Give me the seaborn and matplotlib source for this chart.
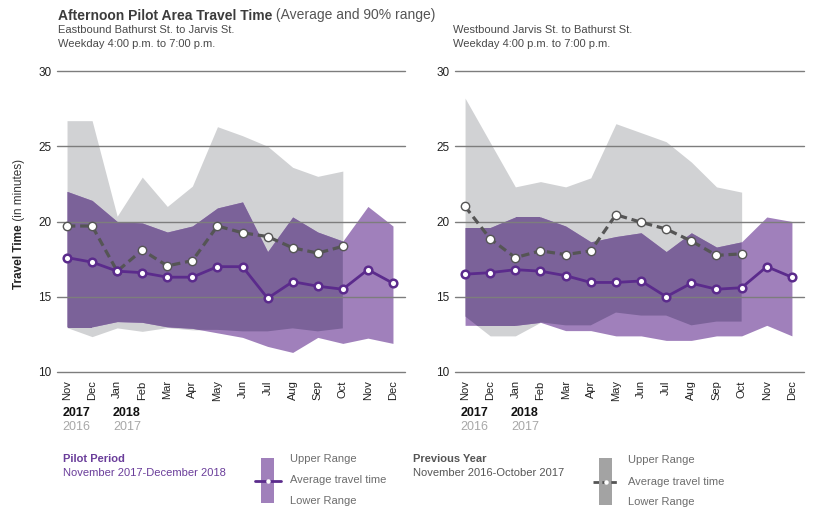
import numpy as np
import pandas as pd
import seaborn as sns
import matplotlib.pyplot as plt
import matplotlib.transforms as mtransforms
from matplotlib.patches import Rectangle
from matplotlib.lines import Line2D

# ---- data ----
months = ['Nov', 'Dec', 'Jan', 'Feb', 'Mar', 'Apr', 'May', 'Jun', 'Jul', 'Aug', 'Sep', 'Oct', 'Nov', 'Dec']

# eastbound (left panel)
east_pilot_avg = [17.6, 17.3, 16.7, 16.6, 16.3, 16.3, 17.0, 17.0, 14.9, 16.0, 15.7, 15.5, 16.8, 15.9]
east_pilot_hi = [22.0, 21.4, 20.0, 19.9, 19.3, 19.7, 20.9, 21.3, 18.0, 20.3, 19.3, 18.7, 21.0, 19.7]
east_pilot_lo = [13.0, 13.0, 13.35, 13.3, 13.0, 12.9, 12.6, 12.3, 11.7, 11.3, 12.3, 11.9, 12.25, 11.9]
east_prev_avg = [19.7, 19.7, 16.7, 18.1, 17.05, 17.4, 19.7, 19.25, 19.0, 18.25, 17.9, 18.35]
east_prev_hi = [26.7, 26.7, 20.35, 22.95, 21.0, 22.35, 26.3, 25.7, 25.0, 23.6, 23.0, 23.35]
east_prev_lo = [12.95, 12.35, 12.93, 12.7, 12.95, 12.8, 12.8, 12.7, 12.7, 12.9, 12.7, 12.9]

# westbound (right panel)
west_pilot_avg = [16.5, 16.6, 16.8, 16.7, 16.4, 15.95, 15.95, 16.05, 15.0, 15.9, 15.5, 15.6, 17.0, 16.3]
west_pilot_hi = [19.6, 19.6, 20.3, 20.3, 19.7, 18.65, 19.0, 19.25, 18.0, 19.25, 18.3, 18.65, 20.3, 20.0]
west_pilot_lo = [13.1, 13.1, 13.1, 13.3, 12.75, 12.75, 12.4, 12.4, 12.1, 12.1, 12.4, 12.4, 13.1, 12.4]
west_prev_avg = [21.0, 18.85, 17.6, 18.05, 17.8, 18.05, 20.45, 19.95, 19.5, 18.7, 17.75, 17.85]
west_prev_hi = [28.2, 25.25, 22.3, 22.65, 22.3, 22.9, 26.5, 25.9, 25.3, 23.95, 22.3, 21.95]
west_prev_lo = [13.7, 12.4, 12.4, 13.3, 13.1, 13.1, 13.95, 13.75, 13.75, 13.1, 13.35, 13.35]

yticks = [10, 15, 20, 25, 30]

PURPLE_FILL = '#a080bb'
OVERLAP = '#7b6299'
GRAY_FILL = '#d1d2d4'
PURPLE = '#5b2b8c'
DGRAY = '#555555'
TXT = '#4a4a4a'

sns.set_theme(style='white')
plt.rcParams['font.family'] = ['Liberation Sans', 'DejaVu Sans']

fig = plt.figure(figsize=(8.3, 5.18), dpi=100)
W, H = 830, 518


def px_axes(x0, x1, y0, y1):
    return fig.add_axes([x0 / W, 1 - y1 / H, (x1 - x0) / W, (y1 - y0) / H])


def panel(ax, p_avg, p_hi, p_lo, q_avg, q_hi, q_lo):
    xp = np.arange(len(p_avg))
    xq = np.arange(len(q_avg))
    gray = ax.fill_between(xq, q_lo, q_hi, color=GRAY_FILL, lw=0, zorder=1)
    ax.fill_between(xp, p_lo, p_hi, color=PURPLE_FILL, lw=0, zorder=1)
    ov = ax.fill_between(xp, p_lo, p_hi, color=OVERLAP, lw=0, zorder=1)
    ov.set_clip_path(gray.get_paths()[0], ax.transData)

    dfq = pd.DataFrame({'x': xq, 'y': q_avg})
    sns.lineplot(data=dfq, x='x', y='y', ax=ax, color=DGRAY, lw=2.3,
                 linestyle=(0, (2.6, 1.5)), marker='o', markersize=6,
                 markerfacecolor='white', markeredgecolor=DGRAY,
                 markeredgewidth=1.0, zorder=3)
    dfp = pd.DataFrame({'x': xp, 'y': p_avg})
    sns.lineplot(data=dfp, x='x', y='y', ax=ax, color=PURPLE, lw=2.0,
                 marker='o', markersize=5.5, markerfacecolor='white',
                 markeredgecolor=PURPLE, markeredgewidth=1.8, zorder=4)

    ax.set_xlim(-0.4, 13.48)
    ax.set_ylim(10, 30)
    ax.set_yticks(yticks)
    ax.set_xticks(xp)
    ax.set_xticklabels(months, rotation=90, fontsize=8, color='#222222')
    ax.tick_params(axis='y', length=0, pad=4, labelsize=8.5, labelcolor='#222222')
    ax.tick_params(axis='x', length=0, pad=6)
    ax.set_axisbelow('line')
    ax.grid(axis='y', color='#7d7d7d', lw=1.0)
    ax.grid(axis='x', visible=False)
    for gl in ax.get_ygridlines():
        gl.set_clip_on(False)
    for s in ax.spines.values():
        s.set_visible(False)
    ax.set_xlabel('')
    ax.set_ylabel('')


axL = px_axes(57, 405, 71, 372)
axR = px_axes(455, 804, 71, 372)
panel(axL, east_pilot_avg, east_pilot_hi, east_pilot_lo, east_prev_avg, east_prev_hi, east_prev_lo)
panel(axR, west_pilot_avg, west_pilot_hi, west_pilot_lo, west_prev_avg, west_prev_hi, west_prev_lo)

# overlay in pixel coordinates for text and legend keys
ov = fig.add_axes([0, 0, 1, 1], zorder=10)
ov.set_xlim(0, W)
ov.set_ylim(H, 0)
ov.axis('off')
ov.patch.set_alpha(0)

fig.canvas.draw()
rend = fig.canvas.get_renderer()


def run_text(x, y, parts, rotation=0, **kw):
    # consecutive text pieces with different styles on one baseline
    for s, style in parts:
        t = ov.text(x, y, s, rotation=rotation, rotation_mode='anchor',
                    ha='left', va='center', **kw, **style)
        bb = t.get_window_extent(renderer=rend)
        if rotation == 0:
            x += bb.width
        else:
            y -= bb.height


run_text(58, 15.5, [('Afternoon Pilot Area Travel Time', dict(fontweight='bold', color='#3c3c3c')),
                    (' (Average and 90% range)', dict(color='#555555'))], fontsize=10)
for x0, line1 in [(58, 'Eastbound Bathurst St. to Jarvis St.'), (453, 'Westbound Jarvis St. to Bathurst St.')]:
    ov.text(x0, 30, line1, fontsize=8, color=TXT, va='center')
    ov.text(x0, 44, 'Weekday 4:00 p.m. to 7:00 p.m.', fontsize=8, color=TXT, va='center')

run_text(19, 289, [('Travel Time', dict(fontweight='bold', color='#222222')),
                   (' (in minutes)', dict(color='#333333'))], rotation=90, fontsize=8.5)

# year labels under month ticks
for ax in (axL, axR):
    tr = mtransforms.blended_transform_factory(ax.transData, ov.transData)
    for xi, top, bottom in [(0, '2017', '2016'), (2, '2018', '2017')]:
        ov.text(xi - 0.17, 413.5, top, transform=tr, fontsize=9, fontweight='bold', color='#111111', va='center')
        ov.text(xi - 0.17, 427.5, bottom, transform=tr, fontsize=9, color='#a8a8a8', va='center')

# legend, pilot period
ov.text(63, 459.5, 'Pilot Period', fontsize=8, fontweight='bold', color='#6a3d9a', va='center')
ov.text(63, 472.5, 'November 2017-December 2018', fontsize=8, color='#6a3d9a', va='center')
ov.add_patch(Rectangle((261, 458), 13, 45, color=PURPLE_FILL, lw=0))
ov.add_line(Line2D([255, 281], [480.5, 480.5], color=PURPLE, lw=2.0))
ov.add_line(Line2D([268], [480.5], marker='o', markersize=2.2, color='white', lw=0))
for yy, s in [(459, 'Upper Range'), (480, 'Average travel time'), (501, 'Lower Range')]:
    ov.text(290, yy, s, fontsize=8, color='#6d6d6d', va='center')

# legend, previous year
ov.text(413, 459.5, 'Previous Year', fontsize=8, fontweight='bold', color='#555555', va='center')
ov.text(413, 472.5, 'November 2016-October 2017', fontsize=8, color='#555555', va='center')
ov.add_patch(Rectangle((599, 458), 13, 47, color='#a3a3a3', lw=0))
ov.add_line(Line2D([593, 618], [482, 482], color=DGRAY, lw=2.0, linestyle=(0, (2, 1.2))))
ov.add_line(Line2D([605.5], [482], marker='o', markersize=2.2, color='white', lw=0))
for yy, s in [(460, 'Upper Range'), (482, 'Average travel time'), (502, 'Lower Range')]:
    ov.text(628, yy, s, fontsize=8, color='#6d6d6d', va='center')

fig.savefig('out.png', dpi=100)
